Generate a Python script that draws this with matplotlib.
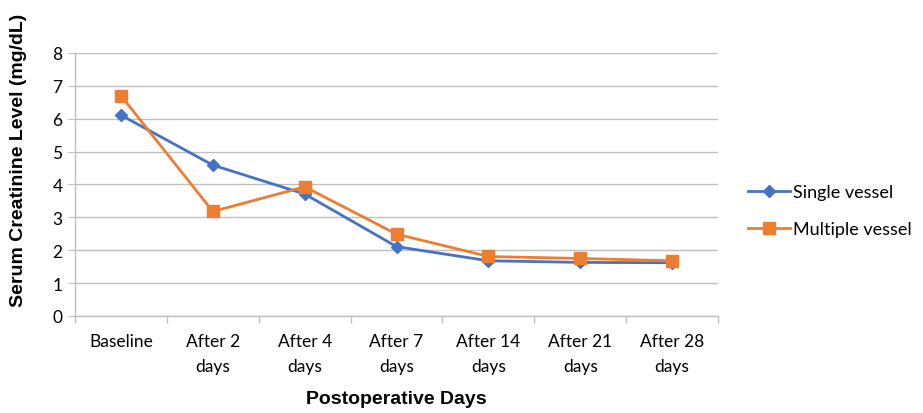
import matplotlib.pyplot as plt

CATEGORIES = ['Baseline', 'After 2\ndays', 'After 4\ndays', 'After 7\ndays',
              'After 14\ndays', 'After 21\ndays', 'After 28\ndays']
SINGLE = [6.11, 4.59, 3.71, 2.11, 1.68, 1.63, 1.62]
MULTIPLE = [6.70, 3.18, 3.93, 2.49, 1.81, 1.75, 1.68]
Y_TICKS = [0, 1, 2, 3, 4, 5, 6, 7, 8]

BLUE = '#4472C4'
ORANGE = '#ED7D31'
GRID = '#BFBFBF'

plt.rcParams['font.family'] = ['Lato', 'DejaVu Sans']
TITLE_FONT = ['Liberation Sans', 'DejaVu Sans']


def main():
    fig = plt.figure(figsize=(9.23, 4.14), dpi=100)
    ax = fig.add_axes([0.0813, 0.2343, 0.6967, 0.6353])

    x = list(range(len(CATEGORIES)))
    ax.plot(x, SINGLE, color=BLUE, lw=2, marker='D', ms=6.5,
            label='Single vessel', zorder=3)
    ax.plot(x, MULTIPLE, color=ORANGE, lw=2, marker='s', ms=8,
            label='Multiple vessel', zorder=3)

    ax.set_xlim(-0.5, len(CATEGORIES) - 0.5)
    ax.set_ylim(0, 8)
    ax.set_yticks(Y_TICKS)
    ax.set_xticks(x)
    ax.set_xticklabels(CATEGORIES, fontsize=12.5, linespacing=1.7)
    ax.set_xticks([i - 0.5 for i in range(len(CATEGORIES) + 1)], minor=True)
    ax.tick_params(axis='x', which='major', length=0, pad=12)
    ax.tick_params(axis='x', which='minor', length=5, color=GRID, width=1)
    ax.tick_params(axis='y', length=5, color=GRID, labelsize=12.5, pad=4)

    ax.grid(axis='y', color=GRID, lw=1)
    ax.set_axisbelow(True)
    for side in ['top', 'right']:
        ax.spines[side].set_visible(False)
    for side in ['left', 'bottom']:
        ax.spines[side].set_color(GRID)
        ax.spines[side].set_linewidth(1)

    ax.set_ylabel('Serum Creatinine Level (mg/dL)', fontsize=14,
                  fontweight='bold', family=TITLE_FONT)
    ax.yaxis.set_label_coords(-0.074, 0.595)
    ax.set_xlabel('Postoperative Days', fontsize=14, fontweight='bold',
                  family=TITLE_FONT, labelpad=12)

    fig.legend(loc='center left', bbox_to_anchor=(0.8104, 0.489), frameon=False,
               fontsize=13, handlelength=2.3, labelspacing=1.15,
               handletextpad=0.2, borderaxespad=0, borderpad=0)

    fig.savefig('out.png', dpi=100)


if __name__ == '__main__':
    main()
